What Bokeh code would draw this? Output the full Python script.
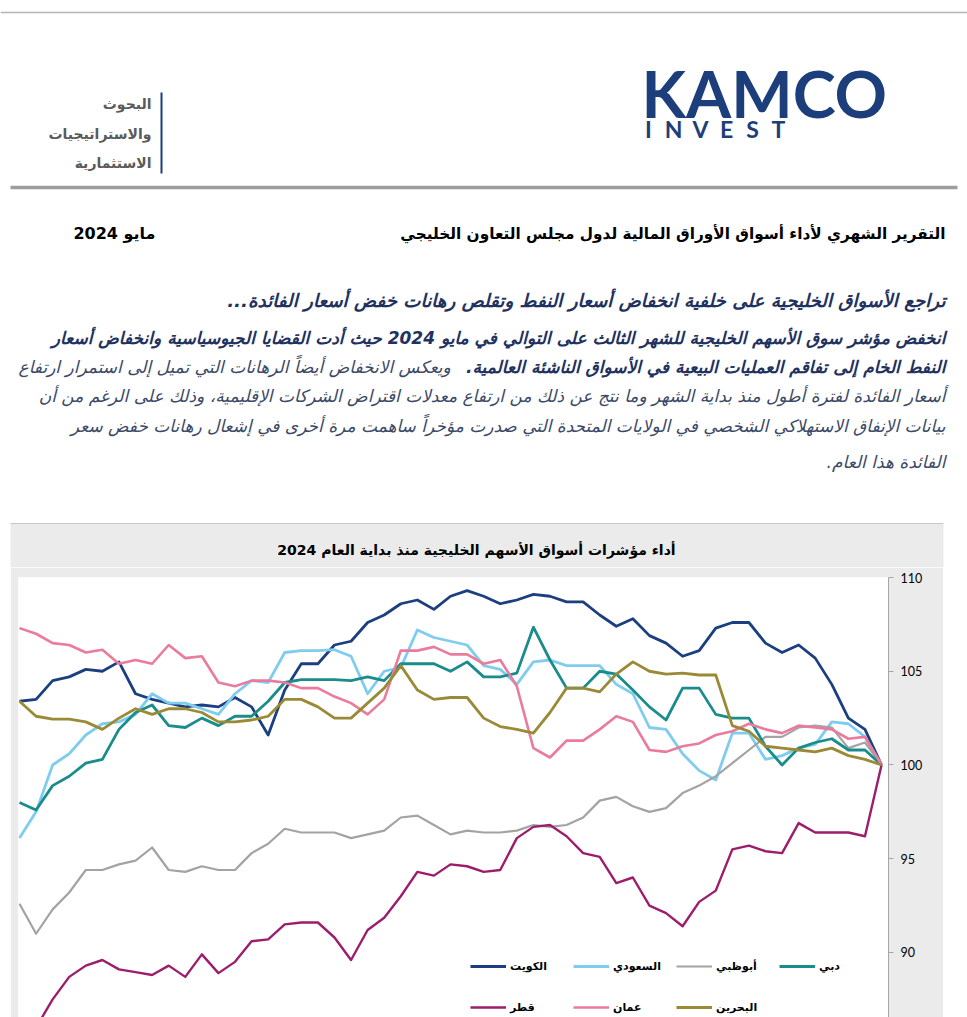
from bokeh.plotting import figure
from bokeh.models import Range1d, FixedTicker, Legend, LegendItem
from bokeh.embed import file_html
from bokeh.resources import INLINE
from bokeh.core.properties import value

RLM = "\u200f"
AR = "DejaVu Sans"

# ---------------- data (trading-day index since 1 Jan 2024, rebased = 100) ----------------
days = list(range(0, 105, 2))

kuwait = [100.0, 101.9, 102.5, 104.3, 105.7, 106.4, 106.0, 106.5, 107.6, 107.6,
          107.3, 106.1, 105.8, 106.5, 106.9, 107.8, 107.4, 108.0, 108.7, 108.7,
          109.0, 109.1, 108.8, 108.6, 109.0, 109.3, 109.0, 108.3, 108.8, 108.6,
          108.0, 107.6, 106.6, 106.4, 105.4, 105.4, 104.0, 101.6, 103.1, 103.6,
          103.1, 103.2, 103.1, 103.3, 103.5, 103.8, 105.5, 105.0, 105.1, 104.7,
          104.5, 103.5, 103.4]
saudi = [100.0, 101.5, 102.2, 102.3, 101.1, 100.9, 100.5, 100.3, 101.7, 101.7,
         99.2, 99.7, 100.6, 101.9, 102.0, 103.8, 104.3, 105.3, 105.3, 105.3,
         105.6, 105.5, 104.3, 105.1, 105.3, 106.4, 106.6, 106.8, 107.2, 105.2,
         105.0, 103.8, 105.8, 106.15, 106.1, 106.1, 106.0, 104.4, 104.5, 103.8,
         102.7, 103.0, 103.3, 103.3, 103.8, 102.7, 102.3, 102.2, 101.6, 100.6,
         100.0, 97.5, 96.1]
abudhabi = [100.0, 101.2, 100.9, 102.0, 102.1, 102.0, 101.5, 101.5, 100.8, 100.1,
            99.4, 98.9, 98.5, 97.7, 97.5, 97.8, 98.3, 98.1, 97.2, 96.8,
            96.7, 96.8, 96.5, 96.4, 96.4, 96.5, 96.3, 96.8, 97.3, 97.2,
            96.5, 96.3, 96.1, 96.4, 96.4, 96.4, 96.6, 95.8, 95.3, 94.4,
            94.4, 94.6, 94.3, 94.4, 95.6, 94.9, 94.7, 94.4, 94.4, 93.2,
            92.3, 91.0, 92.6]
dubai = [100.0, 100.8, 100.8, 101.4, 101.2, 100.9, 100.0, 101.0, 102.5, 102.5,
         102.7, 104.1, 104.1, 102.4, 103.1, 104.0, 104.85, 105.0, 104.1, 104.1,
         105.6, 107.35, 104.9, 104.7, 104.7, 105.5, 105.0, 105.4, 105.4, 105.4,
         104.5, 104.7, 104.5, 104.55, 104.55, 104.55, 104.4, 103.4, 102.6, 102.6,
         102.1, 102.5, 102.0, 102.1, 103.2, 102.8, 101.9, 100.3, 100.1, 99.4,
         98.9, 97.6, 98.0]
qatar = [100.0, 96.2, 96.4, 96.4, 96.4, 96.9, 95.3, 95.4, 95.7, 95.5,
         93.3, 92.7, 91.4, 92.1, 92.5, 94.0, 93.7, 95.1, 95.3, 96.2,
         96.8, 96.7, 96.1, 94.4, 94.3, 94.6, 94.7, 94.1, 94.3, 93.0,
         91.85, 91.2, 89.6, 90.8, 91.6, 91.6, 91.5, 90.7, 90.6, 89.5,
         88.9, 89.9, 88.7, 89.3, 88.8, 88.95, 89.1, 89.6, 89.3, 88.7,
         87.5, 86.0, 85.8]
oman = [100.0, 101.5, 101.4, 101.9, 102.0, 102.1, 101.7, 101.9, 102.2, 101.8,
        101.6, 101.15, 101.0, 100.7, 100.8, 102.3, 102.6, 101.9, 101.3, 101.3,
        100.4, 100.9, 104.2, 105.6, 105.4, 105.9, 105.9, 106.3, 106.1, 106.1,
        103.5, 102.7, 103.3, 103.65, 104.1, 104.1, 104.4, 104.5, 104.5, 104.2,
        104.4, 105.8, 105.7, 106.4, 105.4, 105.6, 105.4, 106.15, 106.0, 106.4,
        106.5, 107.0, 107.3]
bahrain = [100.0, 100.3, 100.5, 100.9, 100.7, 100.8, 100.9, 101.0, 101.8, 102.1,
           104.8, 104.8, 104.9, 104.85, 105.0, 105.5, 104.85, 103.9, 104.1, 104.1,
           102.8, 101.7, 101.9, 102.05, 102.5, 103.6, 103.6, 103.5, 104.0, 105.3,
           104.1, 103.3, 102.5, 102.5, 103.1, 103.5, 103.5, 102.6, 102.4, 102.3,
           102.3, 102.8, 103.0, 103.0, 102.7, 103.0, 102.5, 101.9, 102.3, 102.45,
           102.45, 102.6, 103.4]

series_names = ["الكويت", "السعودي", "أبوظبي", "دبي", "قطر", "عمان", "البحرين"]
series_values = [kuwait, saudi, abudhabi, dubai, qatar, oman, bahrain]
series_colors = ["#1b3f7f", "#7fcdee", "#a3a3a3", "#1a8c8c", "#9c1d6b", "#ea7b9c", "#9a8a36"]
series_widths = [2.8, 2.8, 2.2, 2.8, 2.4, 2.6, 2.8]
y_ticks = [90, 95, 100, 105, 110]

# ---------------- texts ----------------
dept_lines = ["البحوث", "والاستراتيجيات", "الاستثمارية"]
report_title = "التقرير الشهري لأداء أسواق الأوراق المالية لدول مجلس التعاون الخليجي"
report_date = "مايو 2024"
headline = "تراجع الأسواق الخليجية على خلفية انخفاض أسعار النفط وتقلص رهانات خفض أسعار الفائدة..." + RLM
para1 = "انخفض مؤشر سوق الأسهم الخليجية للشهر الثالث على التوالي في مايو 2024 حيث أدت القضايا الجيوسياسية وانخفاض أسعار"
para2_bold = "النفط الخام إلى تفاقم العمليات البيعية في الأسواق الناشئة العالمية." + RLM
para2_rest = "ويعكس الانخفاض أيضاً الرهانات التي تميل إلى استمرار ارتفاع"
para3 = "أسعار الفائدة لفترة أطول منذ بداية الشهر وما نتج عن ذلك من ارتفاع معدلات اقتراض الشركات الإقليمية، وذلك على الرغم من أن"
para4 = "بيانات الإنفاق الاستهلاكي الشخصي في الولايات المتحدة التي صدرت مؤخراً ساهمت مرة أخرى في إشعال رهانات خفض سعر"
para5 = "الفائدة هذا العام." + RLM
chart_title = "أداء مؤشرات أسواق الأسهم الخليجية منذ بداية العام 2024"

NAVY = "#1c3e7b"
TXT_NAVY = "#1f3260"
TXT_SLATE = "#3c4a68"
BOX_GREY = "#ebebeb"

# ---------------- header figure (page pixel coordinates) ----------------
W = 967
H1 = 567
hp = figure(width=W, height=H1, x_range=Range1d(0, W), y_range=Range1d(H1, 0),
            output_backend="svg", toolbar_location=None,
            x_axis_location=None, y_axis_location=None, min_border=0)
hp.outline_line_color = None
hp.background_fill_color = "white"
hp.border_fill_color = "white"
hp.xgrid.grid_line_color = None
hp.ygrid.grid_line_color = None


def put(fig, x, y, txt, size, color="black", style="normal", align="right", font=AR):
    fig.text(x=[x], y=[y], text=[txt], text_font=value(font),
             text_font_size=f"{size}px", text_font_style=style,
             text_color=color, text_align=align, text_baseline="middle")


# rules
hp.segment(x0=[0], y0=[12], x1=[967], y1=[12], line_color="#b4b4b4", line_width=1.5)
hp.segment(x0=[10], y0=[187], x1=[957], y1=[187], line_color="#9d9d9d", line_width=3.5)
hp.segment(x0=[161], y0=[92], x1=[161], y1=[173], line_color=NAVY, line_width=2)

# chart box top strip (title area)
hp.quad(left=[10], right=[943], top=[523], bottom=[H1], fill_color=BOX_GREY, line_color=None)
hp.segment(x0=[10], y0=[523], x1=[943], y1=[523], line_color="#c8c8c8", line_width=1)

# logo
put(hp, 641, 92, "KAMCO", 65, NAVY, "bold", "left", "Lato")
invest_letters = list("INVEST")
invest_x = [648, 673, 700, 726, 752, 778]
hp.text(x=invest_x, y=[128] * 6, text=invest_letters, text_font=value("Lato"),
        text_font_size="23px", text_font_style="bold", text_color=NAVY,
        text_align="center", text_baseline="middle")

# department
for yy, t in zip([103, 133, 162], dept_lines):
    put(hp, 151, yy, t, 14, "#5a5a5a", "bold")

# titles
put(hp, 945, 233, report_title, 15.3, "black", "bold")
put(hp, 155, 233, report_date, 16, "black", "bold")
put(hp, 945, 300, headline, 18.3, TXT_NAVY, "bold italic")

PS = 17.0
put(hp, 945, 337, para1, PS, TXT_NAVY, "bold italic")
put(hp, 945, 366, para2_bold, PS, TXT_NAVY, "bold italic")
put(hp, 18, 366, para2_rest, PS, TXT_SLATE, "italic", "left")
put(hp, 945, 395, para3, PS, TXT_SLATE, "italic")
put(hp, 945, 425, para4, PS, TXT_SLATE, "italic")
put(hp, 945, 461, para5, PS, TXT_SLATE, "italic")

# chart title
put(hp, 476, 549, chart_title, 14, "black", "bold", "center")

# ---------------- chart figure ----------------
cp = figure(width=933, height=450,
            x_range=Range1d(104.12, -0.84), y_range=Range1d(86.533, 110),
            y_axis_location="right", x_axis_location=None,
            output_backend="svg", toolbar_location=None,
            min_border_left=8, min_border_right=55, min_border_top=10, min_border_bottom=0)
cp.margin = (0, 0, 0, 10)
cp.border_fill_color = BOX_GREY
cp.background_fill_color = "white"
cp.outline_line_color = None
cp.xgrid.grid_line_color = None
cp.ygrid.grid_line_color = None

ax = cp.yaxis[0]
ax.ticker = FixedTicker(ticks=y_ticks)
ax.axis_line_color = "#a6a6a6"
ax.major_tick_line_color = "#a6a6a6"
ax.major_tick_in = 0
ax.major_tick_out = 5
ax.minor_tick_line_color = None
ax.major_label_text_font = "Lato"
ax.major_label_text_font_size = "12.5px"
ax.major_label_text_color = "black"
ax.major_label_standoff = 7

renderers = []
for name, vals, col, w in zip(series_names, series_values, series_colors, series_widths):
    r = cp.line(days, vals, line_color=col, line_width=w, line_join="round")
    renderers.append(r)

leg_style = dict(orientation="horizontal", glyph_width=36, glyph_height=14,
                 label_standoff=4, label_width=58, label_height=14, spacing=5,
                 padding=0, margin=0, border_line_color=None, background_fill_alpha=0,
                 label_text_font=AR, label_text_font_size="11px",
                 label_text_font_style="bold", label_text_color="black")
leg1 = Legend(items=[LegendItem(label=series_names[i], renderers=[renderers[i]]) for i in range(4)],
              location=(452, 44), **leg_style)
leg2 = Legend(items=[LegendItem(label=series_names[i], renderers=[renderers[i]]) for i in range(4, 7)],
              location=(452, 3), **leg_style)
cp.add_layout(leg1)
cp.add_layout(leg2)

open("out.html", "w").write(file_html([hp, cp], INLINE, title="KAMCO"))
